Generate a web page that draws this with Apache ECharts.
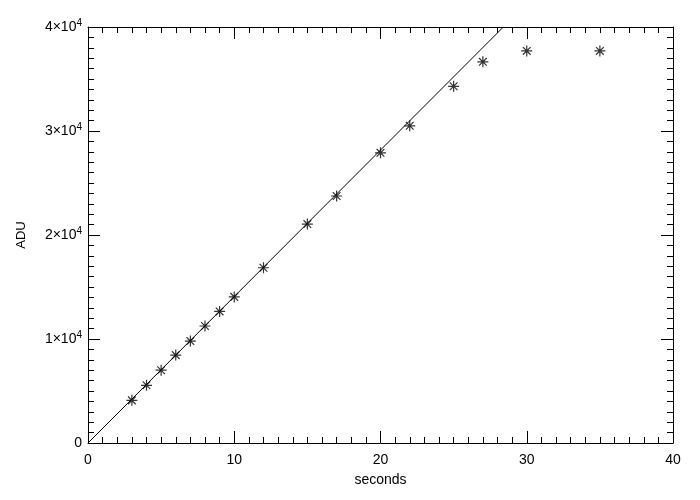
<!DOCTYPE html>
<html>
<head>
<meta charset="utf-8">
<script src="https://cdn.jsdelivr.net/npm/echarts@6/dist/echarts.min.js"></script>
<style>html,body{margin:0;padding:0;background:#fff;}#c{width:700px;height:500px;}</style>
</head>
<body>
<div id="c"></div>
<script>
// Measured points (seconds, ADU)
const seconds = [3, 4, 5, 6, 7, 8, 9, 10, 12, 15, 17, 20, 22, 25, 27, 30, 35];
const adu = [4100, 5550, 7000, 8450, 9800, 11250, 12650, 14050, 16850, 21050, 23750, 27900, 30500, 34300, 36650, 37700, 37700];
// Linear fit line endpoints
const fitX = [0, 28.4];
const fitY = [0, 40000];
const xTicks = [0, 10, 20, 30, 40];
const yTicks = [0, 10000, 20000, 30000, 40000];

const pts = seconds.map((s, i) => [s, adu[i]]);
const fit = fitX.map((x, i) => [x, fitY[i]]);

const FONT = 'Liberation Sans';
const axisLineStyle = { color: '#000', width: 1 };
function baseX(pos, showLabel) {
  return {
    type: 'value', position: pos, min: xTicks[0], max: xTicks[xTicks.length - 1], interval: 10,
    axisLine: { show: true, onZero: false, lineStyle: axisLineStyle },
    axisTick: { show: true, inside: true, length: 12, lineStyle: { color: '#000' } },
    minorTick: { show: true, splitNumber: 10, length: 6, lineStyle: { color: '#000' } },
    splitLine: { show: false },
    axisLabel: { show: showLabel, color: '#000', fontFamily: FONT, fontSize: 14, margin: 10 }
  };
}
function baseY(pos, showLabel) {
  return {
    type: 'value', position: pos, min: yTicks[0], max: yTicks[yTicks.length - 1], interval: 10000,
    axisLine: { show: true, onZero: false, lineStyle: axisLineStyle },
    axisTick: { show: true, inside: true, length: 12, lineStyle: { color: '#000' } },
    minorTick: { show: true, splitNumber: 10, length: 6, lineStyle: { color: '#000' } },
    splitLine: { show: false },
    axisLabel: {
      show: showLabel, color: '#000', fontFamily: FONT, fontSize: 14, margin: 6,
      formatter: v => v === 0 ? '0' : '{b|' + (v / 10000) + '×10}{s|4}',
      rich: {
        b: { fontFamily: FONT, fontSize: 14, color: '#000' },
        s: { fontFamily: FONT, fontSize: 10, color: '#000', verticalAlign: 'top', padding: [0, 0, 8, 0] }
      }
    }
  };
}

const xa = baseX('bottom', true);
xa.name = 'seconds'; xa.nameLocation = 'middle'; xa.nameGap = 30;
xa.nameTextStyle = { color: '#000', fontFamily: FONT, fontSize: 14 };
const xt = baseX('top', false);
const ya = baseY('left', true);
ya.name = 'ADU'; ya.nameLocation = 'middle'; ya.nameGap = 60;
ya.nameTextStyle = { color: '#000', fontFamily: FONT, fontSize: 13 };
const yr = baseY('right', false);

const star = 'path://M0 5L10 5M5 0L5 10M1.5 1.5L8.5 8.5M8.5 1.5L1.5 8.5';

const chart = echarts.init(document.getElementById('c'), null, { renderer: 'canvas' });
chart.setOption({
  backgroundColor: '#fff',
  animation: false,
  grid: { left: 88, right: 27, top: 27, bottom: 57, containLabel: false },
  xAxis: [xa, xt],
  yAxis: [ya, yr],
  series: [
    {
      type: 'line', data: fit, xAxisIndex: 0, yAxisIndex: 0, showSymbol: false, clip: true,
      lineStyle: { color: '#000', width: 1 }, silent: true
    },
    {
      type: 'scatter', data: pts, xAxisIndex: 0, yAxisIndex: 0, symbol: star, symbolSize: 11,
      itemStyle: { color: 'none', borderColor: '#000', borderWidth: 1.2 }
    }
  ]
});
</script>
</body>
</html>
